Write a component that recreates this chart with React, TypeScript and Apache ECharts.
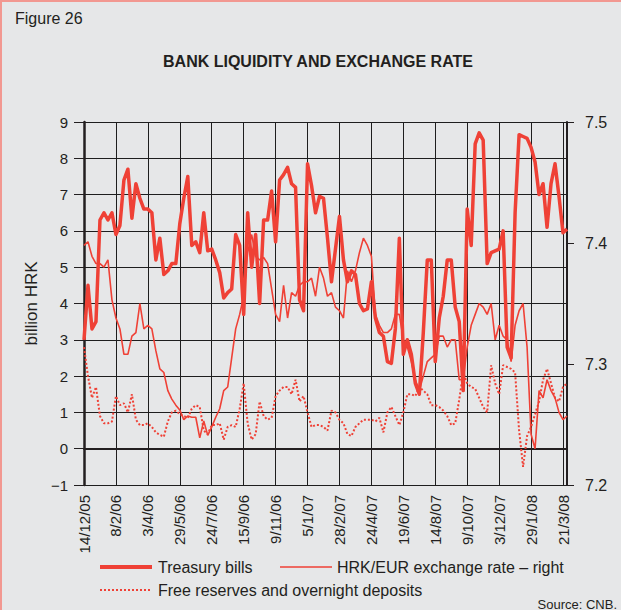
import React, { useEffect, useRef } from "react";
import * as echarts from "echarts";

const tickLabels = [
  "14/12/05", "8/2/06", "3/4/06", "29/5/06", "24/7/06", "15/9/06", "9/11/06", "5/1/07",
  "28/2/07", "24/4/07", "19/6/07", "14/8/07", "9/10/07", "3/12/07", "29/1/08", "21/3/08",
];

// billion HRK, roughly weekly readings
const treasuryBills = [
  3.0, 4.5, 3.3, 3.5, 6.3, 6.5, 6.3, 6.5, 5.9, 6.15,
  7.4, 7.7, 6.35, 7.3, 6.9, 6.6, 6.6, 6.5, 5.2, 5.8,
  4.8, 4.9, 5.1, 5.1, 6.2, 6.9, 7.5, 5.6, 5.7, 5.4,
  6.5, 5.45, 5.5, 5.2, 4.85, 4.15, 4.3, 4.4, 5.9, 5.6,
  3.7, 6.5, 5.0, 5.9, 4.0, 6.3, 6.3, 7.1, 5.7, 7.4,
  7.55, 7.75, 7.3, 7.2, 4.1, 3.8, 7.85, 7.25, 6.5, 6.95,
  6.9, 5.8, 4.6, 5.5, 6.4, 5.2, 4.6, 4.9, 4.8, 4.0,
  3.8, 3.85, 4.6, 3.6, 3.2, 3.1, 2.4, 2.35, 3.3, 5.8,
  2.6, 3.0, 2.6, 1.8, 1.5, 3.2, 5.2, 5.2, 2.4, 3.6,
  4.2, 5.2, 5.2, 3.9, 3.5, 1.6, 6.6, 5.6, 8.4, 8.7,
  8.5, 5.1, 5.4, 5.45, 5.5, 6.0, 2.8, 2.5, 6.5, 8.65,
  8.6, 8.55, 8.3, 7.9, 7.0, 7.3, 6.1, 7.3, 7.85, 6.95,
  5.95, 6.05,
];

// HRK/EUR, right axis
const exchangeRate = [
  7.398, 7.401, 7.389, 7.383, 7.383, 7.38, 7.386, 7.353, 7.338, 7.329,
  7.308, 7.308, 7.323, 7.326, 7.35, 7.329, 7.332, 7.329, 7.311, 7.296,
  7.293, 7.278, 7.271, 7.266, 7.262, 7.254, 7.257, 7.256, 7.256, 7.239,
  7.253, 7.241, 7.248, 7.256, 7.263, 7.278, 7.281, 7.305, 7.329, 7.341,
  7.356, 7.392, 7.407, 7.389, 7.386, 7.388, 7.383, 7.362, 7.341, 7.335,
  7.365, 7.338, 7.359, 7.356, 7.365, 7.368, 7.368, 7.371, 7.356, 7.38,
  7.371, 7.356, 7.359, 7.347, 7.344, 7.338, 7.377, 7.368, 7.377, 7.392,
  7.404, 7.398, 7.389, 7.341, 7.332, 7.326, 7.326, 7.329, 7.341, 7.341,
  7.32, 7.314, 7.302, 7.287, 7.278, 7.29, 7.302, 7.305, 7.308, 7.323,
  7.323, 7.314, 7.32, 7.32, 7.287, 7.287, 7.314, 7.332, 7.341, 7.35,
  7.347, 7.341, 7.35, 7.32, 7.332, 7.323, 7.32, 7.302, 7.332, 7.344,
  7.35, 7.314, 7.242, 7.23, 7.278, 7.272, 7.287, 7.278, 7.272, 7.26,
  7.254, 7.257,
];

// billion HRK
const freeReserves = [
  2.8, 2.0, 1.4, 1.7, 0.9, 0.7, 0.7, 0.75, 1.45, 1.2,
  1.25, 1.0, 1.5, 0.8, 0.65, 0.65, 0.7, 0.6, 0.45, 0.38,
  0.33, 0.75, 1.0, 1.05, 0.95, 0.9, 0.85, 1.1, 1.2, 1.15,
  0.5, 0.4, 0.65, 0.65, 0.7, 0.25, 0.6, 0.65, 0.6, 1.1,
  1.8, 0.7, 0.25, 0.4, 1.3, 0.9, 0.8, 0.85, 1.45, 1.6,
  1.7, 1.7, 1.5, 1.9, 1.3, 1.45, 1.0, 0.6, 0.65, 0.65,
  0.6, 0.5, 1.05, 1.0, 0.8, 0.7, 0.4, 0.35, 0.6, 0.7,
  0.8, 0.8, 0.8, 0.75, 0.85, 0.45, 1.0, 1.15, 0.9, 0.65,
  1.0, 1.5, 1.5, 1.45, 1.7, 1.6, 1.5, 1.2, 1.2, 1.15,
  1.05, 0.9, 0.65, 0.7, 1.35, 2.1, 1.8, 1.7, 1.65, 1.4,
  1.15, 1.0, 2.3, 1.8, 1.5, 2.3, 2.25, 2.2, 2.1, 0.5,
  -0.5, 0.35, 0.6, 0.95, 1.3, 1.9, 2.2, 1.8, 1.4, 1.3,
  1.7, 1.8,
];

const RED = "#ef4136";
const INK = "#231f20";
const GRIDC = "#1e1e1e";
const FONT = '"Liberation Sans", Arial, Helvetica, sans-serif';
const STEP = 8;

export default function App() {
  const ref = useRef<HTMLDivElement>(null);
  useEffect(() => {
    if (!ref.current) return;
    const chart = echarts.init(ref.current, undefined, { renderer: "svg" });
    const n = treasuryBills.length;
    const categories = Array.from({ length: n }, (_, i) =>
      i % STEP === 0 && tickLabels[i / STEP] ? tickLabels[i / STEP] : ""
    );
    const midText = (x: number, y: number, text: string, font: string, align = "left") => ({
      type: "text",
      x,
      y,
      style: {
        text,
        font,
        fill: INK,
        align,
        textAlign: align,
        verticalAlign: "middle",
        textVerticalAlign: "middle",
      },
    });
    chart.setOption({
      animation: false,
      backgroundColor: "#e6e7e8",
      textStyle: { fontFamily: FONT },
      grid: { left: 84, right: 54, top: 122, bottom: 125, containLabel: false },
      xAxis: {
        type: "category",
        data: categories,
        boundaryGap: false,
        axisLine: { show: true, lineStyle: { color: INK, width: 2 } },
        axisTick: { show: true, interval: STEP - 1, length: 8, lineStyle: { color: INK, width: 1 } },
        axisLabel: { interval: STEP - 1, rotate: 90, margin: 10, fontSize: 15, color: INK, fontFamily: FONT },
        splitLine: { show: true, interval: STEP - 1, lineStyle: { color: GRIDC, width: 1 } },
      },
      yAxis: [
        {
          type: "value",
          min: -1,
          max: 9,
          interval: 1,
          name: "billion HRK",
          nameLocation: "middle",
          nameGap: 40,
          nameRotate: 90,
          nameTextStyle: { fontSize: 17, color: INK, fontFamily: FONT },
          axisLine: { show: true, lineStyle: { color: INK, width: 2.5 } },
          axisTick: { show: true, length: 10, lineStyle: { color: INK, width: 1 } },
          axisLabel: {
            margin: 16,
            fontSize: 15,
            color: INK,
            fontFamily: FONT,
            formatter: (v: number) => (v < 0 ? "\u2212" + Math.abs(v) : String(v)),
          },
          splitLine: { show: true, lineStyle: { color: GRIDC, width: 1 } },
        },
        {
          type: "value",
          position: "right",
          min: 7.2,
          max: 7.5,
          interval: 0.1,
          axisLine: { show: true, lineStyle: { color: INK, width: 2 } },
          axisTick: { show: true, length: 7, lineStyle: { color: INK, width: 1 } },
          axisLabel: {
            margin: 18,
            fontSize: 16,
            color: INK,
            fontFamily: FONT,
            formatter: (v: number) => v.toFixed(1),
          },
          splitLine: { show: false },
        },
      ],
      series: [
        {
          name: "HRK/EUR exchange rate – right",
          type: "line",
          yAxisIndex: 1,
          data: exchangeRate,
          symbol: "none",
          lineStyle: { color: RED, width: 1.6 },
          z: 2,
        },
        {
          name: "Free reserves and overnight deposits",
          type: "line",
          yAxisIndex: 0,
          data: freeReserves,
          symbol: "none",
          lineStyle: { color: RED, width: 2, type: [2, 2], cap: "butt" },
          z: 3,
        },
        {
          name: "Treasury bills",
          type: "line",
          yAxisIndex: 0,
          data: treasuryBills,
          symbol: "none",
          lineStyle: { color: RED, width: 3.5, join: "round" },
          z: 4,
        },
      ],
      graphic: [
        {
          type: "rect",
          silent: true,
          shape: { x: 1, y: 1, width: 700, height: 700 },
          style: { fill: "none", stroke: "#f29891", lineWidth: 2 },
        },
        midText(15, 18, "Figure 26", `16px ${FONT}`),
        midText(318, 61, "BANK LIQUIDITY AND EXCHANGE RATE", `bold 16px ${FONT}`, "center"),
        { type: "line", shape: { x1: 100, y1: 567, x2: 152, y2: 567 }, style: { stroke: RED, lineWidth: 4 } },
        midText(158, 567, "Treasury bills", `16px ${FONT}`),
        { type: "line", shape: { x1: 280, y1: 567, x2: 332, y2: 567 }, style: { stroke: RED, lineWidth: 1.6 } },
        midText(337, 567, "HRK/EUR exchange rate \u2013 right", `16px ${FONT}`),
        { type: "line", shape: { x1: 100, y1: 590, x2: 152, y2: 590 }, style: { stroke: RED, lineWidth: 2, lineDash: [2, 2] } },
        midText(158, 590, "Free reserves and overnight deposits", `16px ${FONT}`),
        midText(617, 604, "Source: CNB.", `13px ${FONT}`, "right"),
      ],
    });
    return () => chart.dispose();
  }, []);
  return <div ref={ref} style={{ position: "absolute", left: 0, top: 0, width: 621, height: 610 }} />;
}
